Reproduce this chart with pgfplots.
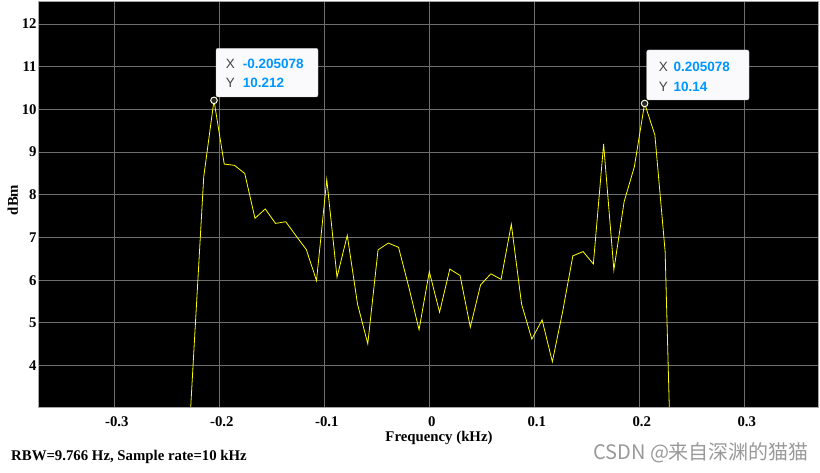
\documentclass[border=0pt]{standalone}
\usepackage{pgfplots}
\pgfplotsset{compat=1.18}
\usepackage{fontspec}
\setmainfont{Liberation Serif}
\newfontfamily\tipfont{Liberation Sans}
\newfontfamily\cjk{Noto Sans CJK SC}
\definecolor{tipblue}{RGB}{0,150,255}
\definecolor{tipgray}{RGB}{70,70,70}
\definecolor{gridc}{RGB}{110,110,110}
\definecolor{tipbg}{RGB}{250,250,253}
\begin{document}
\begin{tikzpicture}[x=1pt,y=1pt]
\path[use as bounding box] (0,0) rectangle (820,472);
\begin{axis}[
  at={(38.3pt,65pt)}, anchor=south west,
  scale only axis, width=779.7pt, height=406pt,
  xmin=-0.3724, xmax=0.3702, ymin=3.03, ymax=12.54,
  axis background/.style={fill=black},
  axis line style={draw=gray!70, line width=0.8pt},
  xtick={-0.3,-0.2,-0.1,0,0.1,0.2,0.3},
  xticklabels={{-0.3},{-0.2},{-0.1},{0},{0.1},{0.2},{0.3}},
  ytick={4,5,6,7,8,9,10,11,12},
  yticklabels={4,5,6,7,8,9,10,11,12},
  major tick length=0pt,
  grid=major,
  major grid style={draw=gridc, line width=0.8pt},
  tick label style={font=\fontsize{14.8}{16}\selectfont\bfseries},
  yticklabel style={inner xsep=1.5pt},
  xticklabel style={inner ysep=3pt, yshift=-6pt, xshift=2.5pt},
]
\addplot[color={rgb,255:red,255;green,255;blue,0}, line width=0.8pt] coordinates {
(-0.234375,-0.1) (-0.224609,4.18) (-0.214844,8.42) (-0.205078,10.212)
(-0.195313,8.72) (-0.185547,8.69) (-0.175781,8.50) (-0.166016,7.45)
(-0.156250,7.67) (-0.146484,7.33) (-0.136719,7.37) (-0.126953,7.04)
(-0.117188,6.72) (-0.107422,5.99) (-0.097656,8.36) (-0.087891,6.07)
(-0.078125,7.05) (-0.068359,5.44) (-0.058594,4.51) (-0.048828,6.71)
(-0.039063,6.87) (-0.029297,6.77) (-0.019531,5.84) (-0.009766,4.84)
(0,6.20) (0.009766,5.25) (0.019531,6.26) (0.029297,6.11)
(0.039063,4.90) (0.048828,5.89) (0.058594,6.15) (0.068359,6.02)
(0.078125,7.31) (0.087891,5.44) (0.097656,4.62) (0.107422,5.07)
(0.117188,4.09) (0.126953,5.26) (0.136719,6.57) (0.146484,6.67)
(0.156250,6.38) (0.166016,9.19) (0.175781,6.24) (0.185547,7.84)
(0.195313,8.66) (0.205078,10.14) (0.214844,9.40) (0.224609,6.67)
(0.234375,-2.3)
};
\addplot[only marks, mark=*, mark size=3.3pt,
  mark options={fill=black!85, draw=white!85!yellow, line width=1pt}]
  coordinates {(-0.205078,10.212) (0.205078,10.14)};
\end{axis}
% data tips
\draw[fill=tipbg, draw=gray!40, rounded corners=2pt] (216,375) rectangle (318,423.7);
\node[inner sep=0, text=tipgray] at (230.3,407.7) {\fontsize{13.5}{15}\selectfont\tipfont X};
\node[anchor=west, inner sep=0, text=tipblue] at (242.7,407.7) {\fontsize{13.5}{15}\selectfont\tipfont\bfseries -0.205078};
\node[inner sep=0, text=tipgray] at (230.3,388.7) {\fontsize{13.5}{15}\selectfont\tipfont Y};
\node[anchor=west, inner sep=0, text=tipblue] at (242.7,388.7) {\fontsize{13.5}{15}\selectfont\tipfont\bfseries 10.212};
\draw[fill=tipbg, draw=gray!40, rounded corners=2pt] (646.7,372) rectangle (749,422);
\node[inner sep=0, text=tipgray] at (663.3,404.7) {\fontsize{13.5}{15}\selectfont\tipfont X};
\node[anchor=west, inner sep=0, text=tipblue] at (673.3,404.7) {\fontsize{13.5}{15}\selectfont\tipfont\bfseries 0.205078};
\node[inner sep=0, text=tipgray] at (663.3,385.3) {\fontsize{13.5}{15}\selectfont\tipfont Y};
\node[anchor=west, inner sep=0, text=tipblue] at (673.3,385.3) {\fontsize{13.5}{15}\selectfont\tipfont\bfseries 10.14};
% labels
\node[inner sep=0] at (439,34.3) {\fontsize{14.8}{16}\selectfont\bfseries Frequency (kHz)};
\node[inner sep=0, rotate=90] at (12.7,272) {\fontsize{14.8}{16}\selectfont\bfseries dBm};
\node[anchor=west, inner sep=0] at (11,15.3) {\fontsize{14.8}{16}\selectfont\bfseries RBW=9.766 Hz, Sample rate=10 kHz};
\node[anchor=west, inner sep=0, text=black!40] at (593,19) {\fontsize{20}{22}\selectfont\cjk CSDN @来自深渊的猫猫};
\end{tikzpicture}
\end{document}
